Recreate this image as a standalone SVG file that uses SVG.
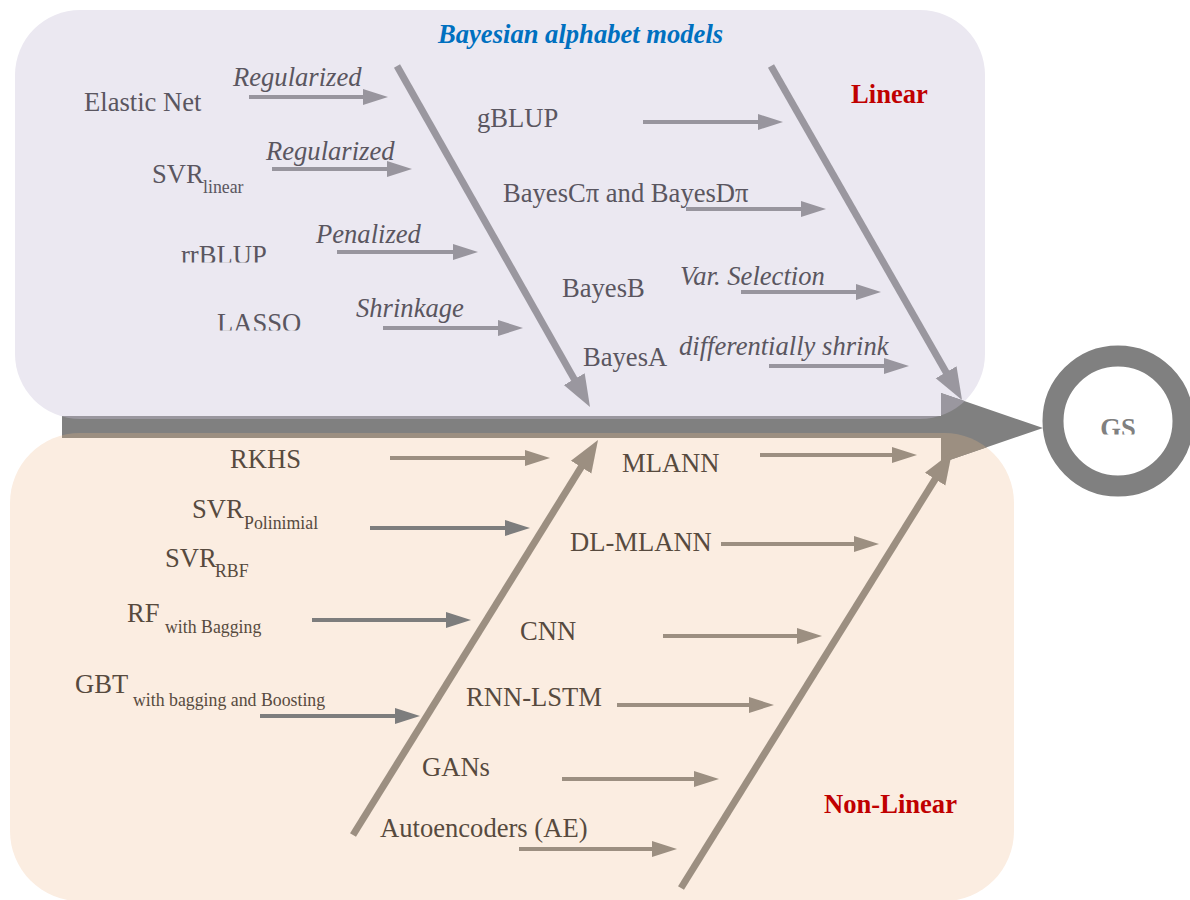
<svg xmlns="http://www.w3.org/2000/svg" xmlns:xlink="http://www.w3.org/1999/xlink" width="1190" height="900" viewBox="0 0 1190 900">
<style>
.t{font-family:"Liberation Serif","Times New Roman",serif;font-size:26.6px}
.sub{font-size:17.8px}
.it{font-style:italic}
.top{fill:#5a5660}
.bot{fill:#574a3e}
.ttl{fill:#0070c0;font-weight:bold;font-style:italic}
.red{fill:#c00000;font-weight:bold}
.aT{stroke:#98959e;stroke-width:4;fill:none;marker-end:url(#hT)}
.aB{stroke:#9c8f81;stroke-width:4;fill:none;marker-end:url(#hB)}
.aG{stroke:#7d7d7d;stroke-width:4;fill:none;marker-end:url(#hG)}
.bT{stroke:#9a979f;stroke-width:7;fill:none;marker-end:url(#bhT)}
.bB{stroke:#9c8f81;stroke-width:7;fill:none;marker-end:url(#bhB)}
</style>
<defs>
<marker id="hT" markerUnits="userSpaceOnUse" markerWidth="26" markerHeight="18" viewBox="0 -9 26 18" refX="5" refY="0" orient="auto"><path d="M0,-8L25,0L0,8Z" fill="#98959e"/></marker>
<marker id="hB" markerUnits="userSpaceOnUse" markerWidth="26" markerHeight="18" viewBox="0 -9 26 18" refX="5" refY="0" orient="auto"><path d="M0,-8L25,0L0,8Z" fill="#9c8f81"/></marker>
<marker id="hG" markerUnits="userSpaceOnUse" markerWidth="26" markerHeight="18" viewBox="0 -9 26 18" refX="5" refY="0" orient="auto"><path d="M0,-8L25,0L0,8Z" fill="#7d7d7d"/></marker>
<marker id="bhT" markerUnits="userSpaceOnUse" markerWidth="33" markerHeight="26" viewBox="0 -13 33 26" refX="6" refY="0" orient="auto"><path d="M0,-12L32,0L0,12Z" fill="#9a979f"/></marker>
<marker id="bhB" markerUnits="userSpaceOnUse" markerWidth="33" markerHeight="26" viewBox="0 -13 33 26" refX="6" refY="0" orient="auto"><path d="M0,-12L32,0L0,12Z" fill="#9c8f81"/></marker>
<clipPath id="lavClip"><rect x="15" y="10" width="970" height="409" rx="65"/></clipPath>
<clipPath id="pchClip"><rect x="10" y="433" width="1004" height="468" rx="70"/></clipPath>
<clipPath id="clipRR"><rect x="150" y="220" width="150" height="42.5"/></clipPath>
<clipPath id="clipLA"><rect x="190" y="290" width="150" height="40.5"/></clipPath>
<clipPath id="clipGS"><rect x="1080" y="400" width="80" height="34.5"/></clipPath>
<path id="spinePath" d="M62,416H941V393L1043,428L941,463V438H62Z"/>
</defs>

<g id="regions">
<rect id="linear-region" x="15" y="10" width="970" height="409" rx="65" fill="#ebe8f1"/>
<rect id="nonlinear-region" x="10" y="433" width="1004" height="468" rx="70" fill="#fbede1"/>
</g>

<g id="spine">
<use xlink:href="#spinePath" href="#spinePath" fill="#808080"/>
<use xlink:href="#spinePath" href="#spinePath" fill="#9a979f" clip-path="url(#lavClip)"/>
<use xlink:href="#spinePath" href="#spinePath" fill="#9c8f81" clip-path="url(#pchClip)"/>
</g>

<g id="connectors">
<path class="bT" d="M397,66L577.2,384.4"/>
<path class="bT" d="M771,66L949.1,377.4"/>
<path class="bB" d="M353,835L584.3,462.1"/>
<path class="bB" d="M681,888L938.3,474.1"/>
<path class="aT" d="M249,97H368"/>
<path class="aT" d="M272,169H392"/>
<path class="aT" d="M337,252H458"/>
<path class="aT" d="M383,328H503"/>
<path class="aT" d="M643,122H763"/>
<path class="aT" d="M686,209H806"/>
<path class="aT" d="M741,292H861"/>
<path class="aT" d="M769,366H889"/>
<path class="aB" d="M390,458H530"/>
<path class="aB" d="M760,455H897"/>
<path class="aB" d="M721,544H859"/>
<path class="aB" d="M663,636H802"/>
<path class="aB" d="M617,705H754"/>
<path class="aB" d="M562,779H699"/>
<path class="aB" d="M519,849H657"/>
<path class="aG" d="M370,528H510"/>
<path class="aG" d="M312,620H451"/>
<path class="aG" d="M260,716H400"/>
</g>

<g id="labels-linear">
<g id="title-bayesian"><text class="t ttl" x="438" y="43">Bayesian alphabet models</text></g>
<g id="title-linear"><text class="t red" x="851" y="103">Linear</text></g>
<g id="elastic-net"><text class="t top" x="84" y="111">Elastic Net</text><text class="t top it" x="233" y="86">Regularized</text></g>
<g id="svr-linear"><text class="t top" x="152" y="183">SVR<tspan class="sub" x="203" y="193">linear</tspan></text><text class="t top it" x="266" y="160">Regularized</text></g>
<g id="rrblup"><text class="t top" x="181" y="264" clip-path="url(#clipRR)">rrBLUP</text><text class="t top it" x="316" y="243">Penalized</text></g>
<g id="lasso"><text class="t top" x="217" y="332" clip-path="url(#clipLA)">LASSO</text><text class="t top it" x="356" y="317">Shrinkage</text></g>
<g id="gblup"><text class="t top" x="477" y="127">gBLUP</text></g>
<g id="bayesc"><text class="t top" x="503" y="202">BayesCπ and BayesDπ</text></g>
<g id="bayesb"><text class="t top" x="562" y="297">BayesB</text><text class="t top it" x="680" y="285">Var. Selection</text></g>
<g id="bayesa"><text class="t top" x="583" y="366">BayesA</text><text class="t top it" x="679" y="355">differentially shrink</text></g>
</g>

<g id="labels-nonlinear">
<g id="title-nonlinear"><text class="t red" x="824" y="813">Non-Linear</text></g>
<g id="rkhs"><text class="t bot" x="230" y="468">RKHS</text></g>
<g id="svr-poly"><text class="t bot" x="192" y="518">SVR<tspan class="sub" x="244" y="529">Polinimial</tspan></text></g>
<g id="svr-rbf"><text class="t bot" x="165" y="567">SVR<tspan class="sub" x="215" y="577">RBF</tspan></text></g>
<g id="rf"><text class="t bot" x="127" y="622">RF<tspan class="sub" x="165" y="633">with Bagging</tspan></text></g>
<g id="gbt"><text class="t bot" x="75" y="693">GBT<tspan class="sub" x="133" y="706">with bagging and Boosting</tspan></text></g>
<g id="mlann"><text class="t bot" x="622" y="472">MLANN</text></g>
<g id="dl-mlann"><text class="t bot" x="570" y="551">DL-MLANN</text></g>
<g id="cnn"><text class="t bot" x="520" y="640">CNN</text></g>
<g id="rnn-lstm"><text class="t bot" x="466" y="706">RNN-LSTM</text></g>
<g id="gans"><text class="t bot" x="422" y="776">GANs</text></g>
<g id="autoencoders"><text class="t bot" x="380" y="837">Autoencoders (AE)</text></g>
</g>

<g id="gs">
<circle cx="1118" cy="421" r="65" fill="#ffffff" stroke="#808080" stroke-width="21"/>
<text class="t" x="1118" y="437" text-anchor="middle" font-weight="bold" fill="#808080" clip-path="url(#clipGS)">GS</text>
</g>
</svg>
